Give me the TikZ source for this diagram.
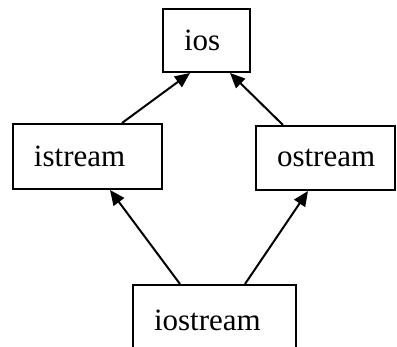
\documentclass[tikz,border=0pt]{standalone}
\usepackage{fontspec}
\setmainfont{Liberation Serif}
\usetikzlibrary{arrows.meta,calc}

\begin{document}
\begin{tikzpicture}[x=1pt,y=-1pt]

    \tikzstyle{cls}=[draw, rectangle, line width=2pt, inner xsep=21pt, align=left, font=\fontsize{31}{37}\selectfont]
    \tikzstyle{inherit}=[line width=2pt, ->]

    \useasboundingbox (0,0) rectangle (397,347);
    \clip (0,0) rectangle (397,347);

    \begin{scope}[>={Triangle[length=15pt,width=13pt]}]

      \node (ios) at (206.5,40.5)[cls, text width=45pt, minimum height=63pt]{ios};
      \node (istream) at (87.5,156.5)[cls, text width=107pt, minimum height=65pt]{istream};
      \node (ostream) at (325.5,158)[cls, text width=97pt, minimum height=64pt]{ostream};
      \node (iostream) at (214.5,320)[cls, text width=121pt, minimum height=70pt]{iostream};

      \draw[inherit] ($(istream.north)+(34.5,0)$) -- ($(ios.south)+(-16.5,0)$);
      \draw[inherit] ($(ostream.north)+(-42.5,0)$) -- ($(ios.south)+(23.5,0)$);
      \draw[inherit] ($(iostream.north)+(-34.5,0)$) -- ($(istream.south)+(22.5,0)$);
      \draw[inherit] ($(iostream.north)+(30.5,0)$) -- ($(ostream.south)+(-17.5,0)$);

    \end{scope}
\end{tikzpicture}
\end{document}
